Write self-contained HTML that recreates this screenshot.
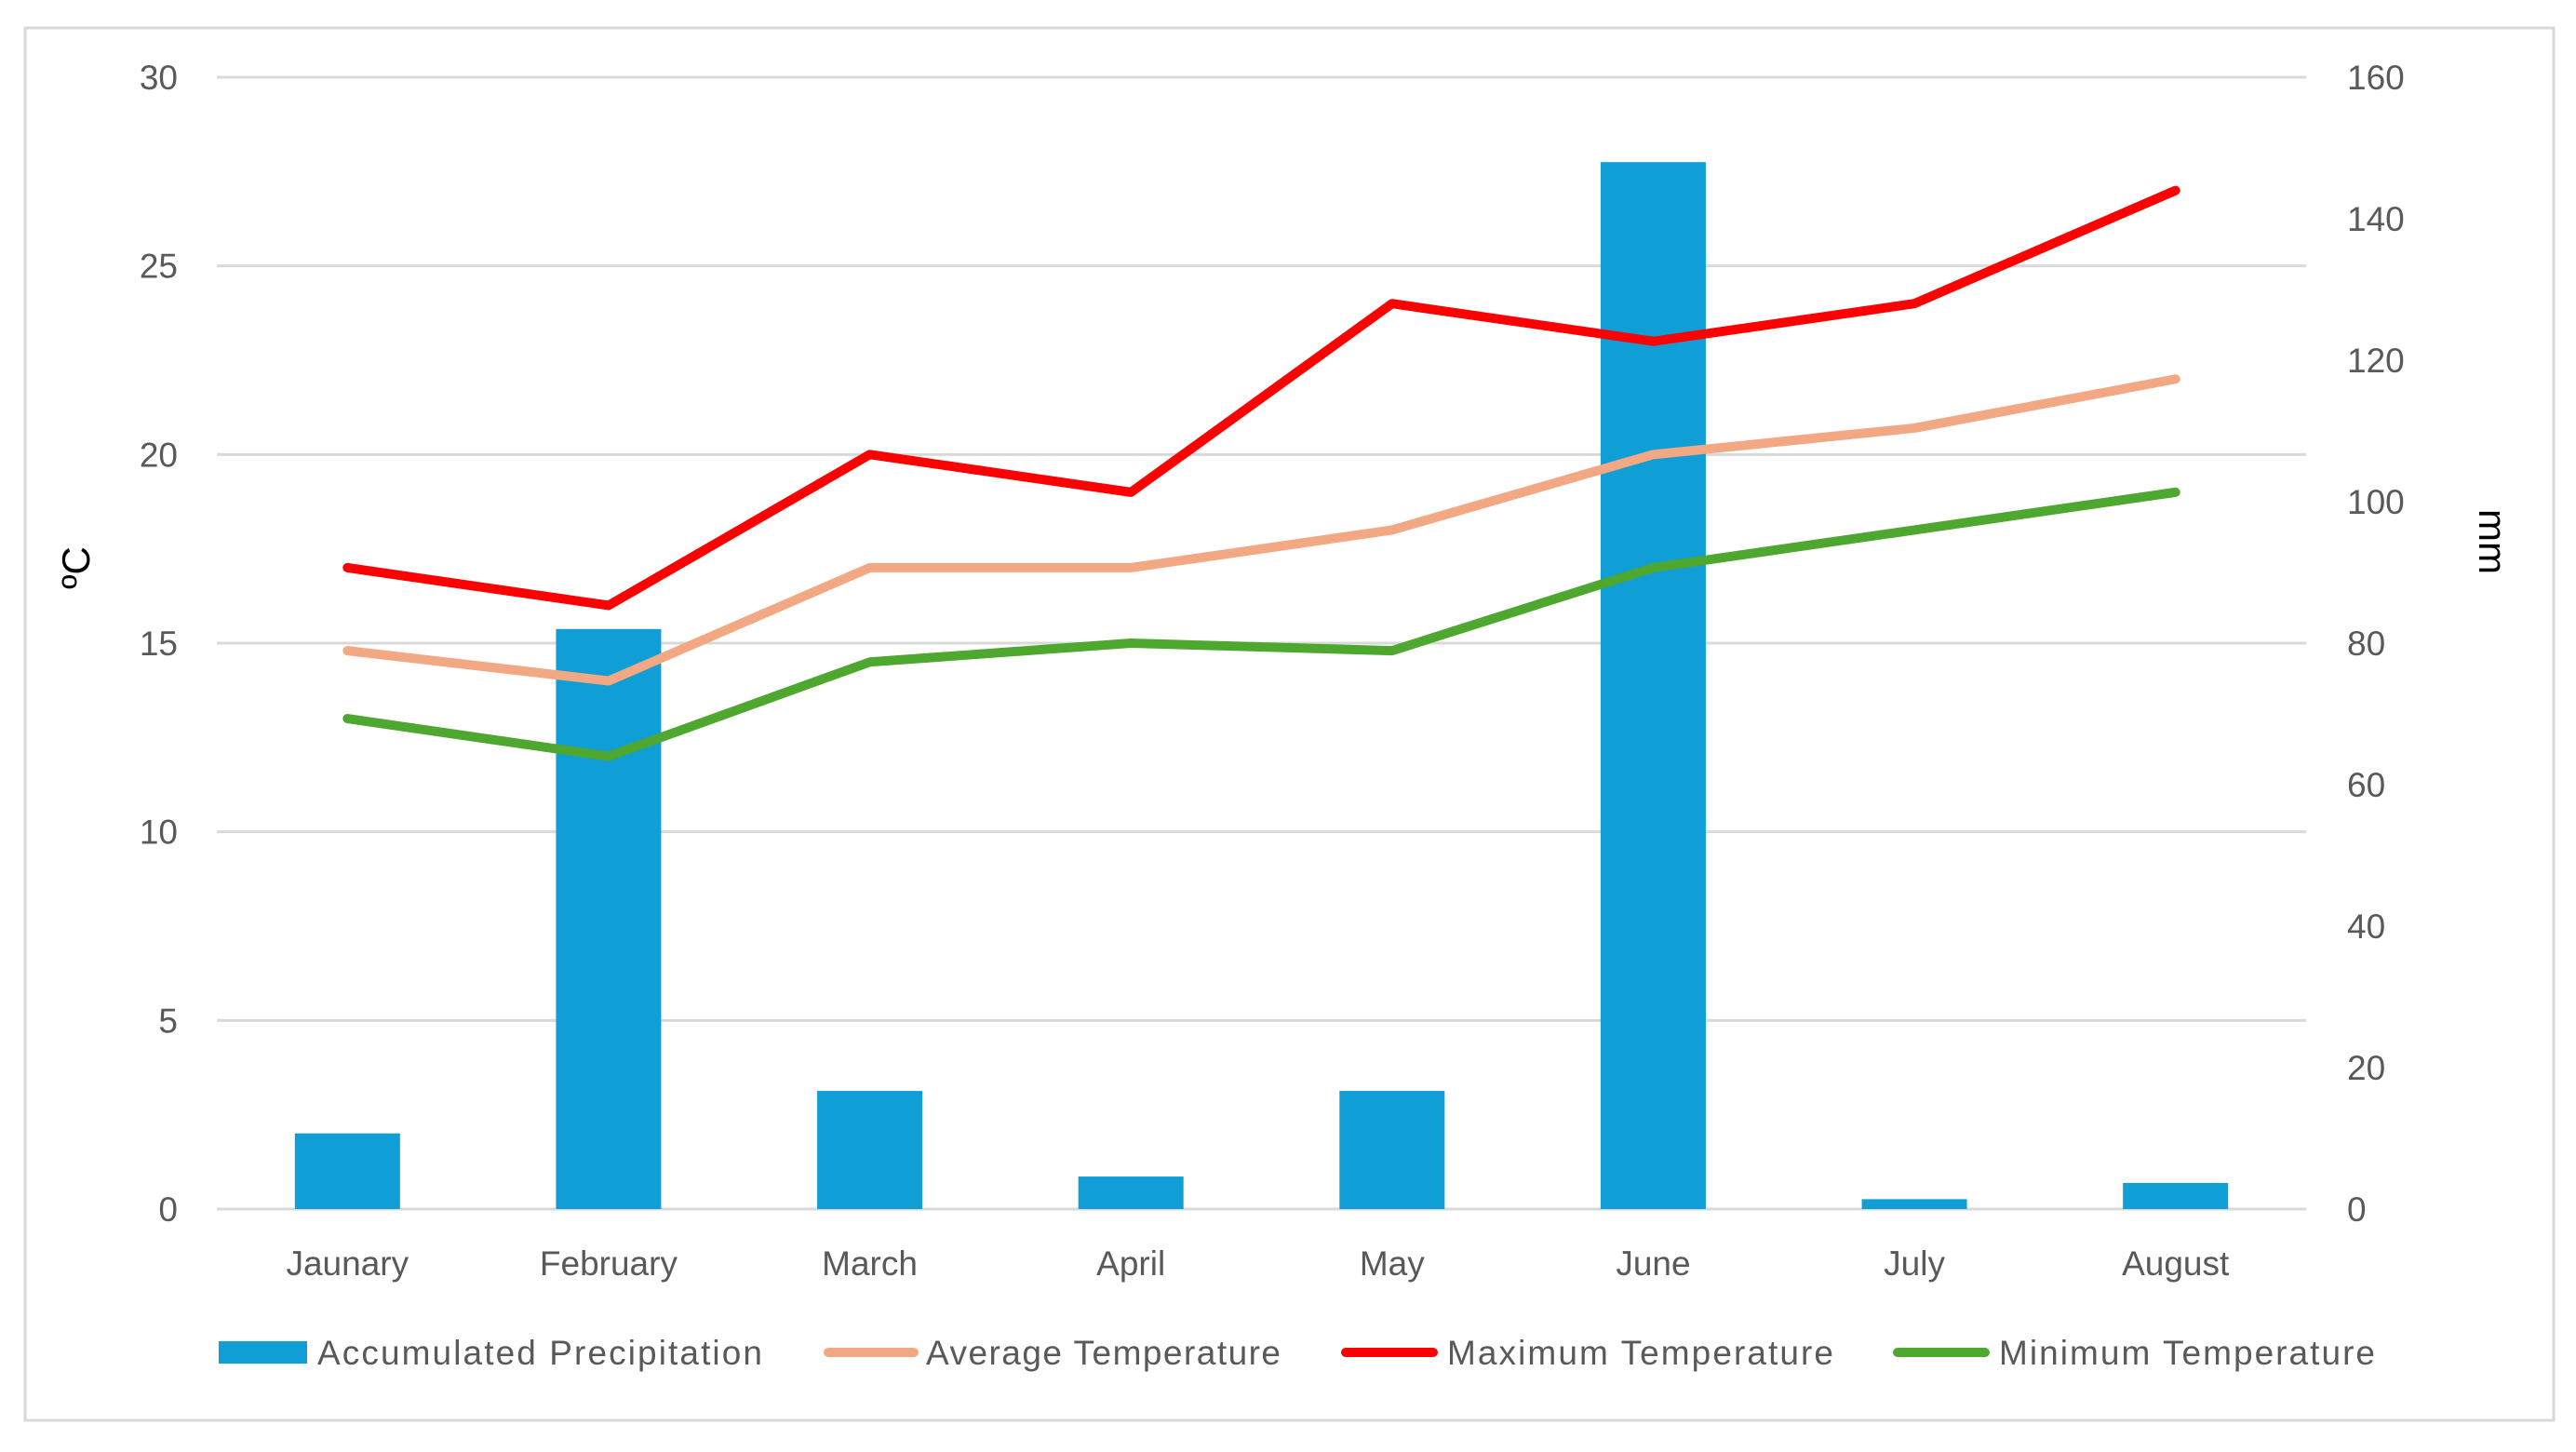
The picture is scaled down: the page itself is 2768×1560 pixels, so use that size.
<!DOCTYPE html>
<html><head><meta charset="utf-8"><style>
html,body{margin:0;padding:0;background:#fff;}
svg{display:block;font-family:"Liberation Sans",sans-serif;}
</style></head><body>
<svg id="chart" width="2768" height="1560" viewBox="0 0 2768 1560">
<rect x="27" y="30" width="2717" height="1496" fill="#fff" stroke="#d9d9d9" stroke-width="3"/>
<g id="grid"></g><g id="bars"></g><g id="lines"></g><g id="labels"></g>
<text x="0" y="0" transform="translate(96,610) rotate(-90)" text-anchor="middle" font-size="42" fill="#000">ºC</text>
<text x="0" y="0" transform="translate(2664,582) rotate(90)" text-anchor="middle" font-size="42" fill="#000">mm</text>
<g>
<g><rect x="235" y="1441" width="95" height="24" fill="#0f9ed5"/><text x="341" y="1466" font-size="37" fill="#595959" textLength="478" lengthAdjust="spacing">Accumulated Precipitation</text></g>
<g><line x1="890" y1="1453" x2="982" y2="1453" stroke="#f2a882" stroke-width="10" stroke-linecap="round"/><text x="995" y="1466" font-size="37" fill="#595959" textLength="381" lengthAdjust="spacing">Average Temperature</text></g>
<g><line x1="1446" y1="1453" x2="1540" y2="1453" stroke="#ff0000" stroke-width="10" stroke-linecap="round"/><text x="1555" y="1466" font-size="37" fill="#595959" textLength="415" lengthAdjust="spacing">Maximum Temperature</text></g>
<g><line x1="2039" y1="1453" x2="2133" y2="1453" stroke="#4ea72e" stroke-width="10" stroke-linecap="round"/><text x="2148" y="1466" font-size="37" fill="#595959" textLength="404" lengthAdjust="spacing">Minimum Temperature</text></g>
</g>
</svg>
<script>
const categories=["Jaunary","February","March","April","May","June","July","August"];
const precipitation=[10.7,82,16.7,4.6,16.7,148,1.4,3.7];
const avgTemp=[14.8,14,17,17,18,20,20.7,22];
const maxTemp=[17,16,20,19,24,23,24,27];
const minTemp=[13,12,14.5,15,14.8,17,18,19];
const leftTicks=[0,5,10,15,20,25,30];
const rightTicks=[0,20,40,60,80,100,120,140,160];
const L=233,R=2478,T=83,B=1299;
const NS='http://www.w3.org/2000/svg';
const cw=(R-L)/categories.length;
const xc=i=>L+cw*(i+0.5);
const yT=v=>B-(v/30)*(B-T);
const yP=v=>B-(v/160)*(B-T);
function mk(tag,attrs,parent){const e=document.createElementNS(NS,tag);for(const k in attrs)e.setAttribute(k,attrs[k]);document.getElementById(parent).appendChild(e);return e;}
leftTicks.forEach(v=>{
 const g=mk('line',{x1:L,x2:R,y1:yT(v),y2:yT(v),stroke:'#d9d9d9','stroke-width':3},'grid');
 
 
 const t=mk('text',{x:191,y:yT(v)+13,'text-anchor':'end','font-size':37,fill:'#595959'},'labels');
 t.textContent=v;
 
 
});
rightTicks.forEach(v=>{
 const t=mk('text',{x:2522,y:yP(v)+13,'text-anchor':'start','font-size':37,fill:'#595959'},'labels');
 t.textContent=v;
 
 
});
const bw=113;
precipitation.forEach((v,i)=>{
 const r=mk('rect',{x:xc(i)-bw/2,y:yP(v),width:bw,height:B-yP(v),fill:'#0f9ed5'},'bars');
 
 
});
categories.forEach((c,i)=>{
 const t=mk('text',{x:xc(i),y:1370,'text-anchor':'middle','font-size':37,fill:'#595959'},'labels');
 t.textContent=c;
 
 
});
[[avgTemp,'#f2a882','average-temperature-line'],[maxTemp,'#ff0000','maximum-temperature-line'],[minTemp,'#4ea72e','minimum-temperature-line']].forEach(([d,c,n])=>{
 const p=mk('polyline',{points:d.map((v,i)=>xc(i)+','+yT(v)).join(' '),fill:'none',stroke:c,'stroke-width':10,'stroke-linecap':'round','stroke-linejoin':'round'},'lines');
 
 
});
</script>
</body></html>
